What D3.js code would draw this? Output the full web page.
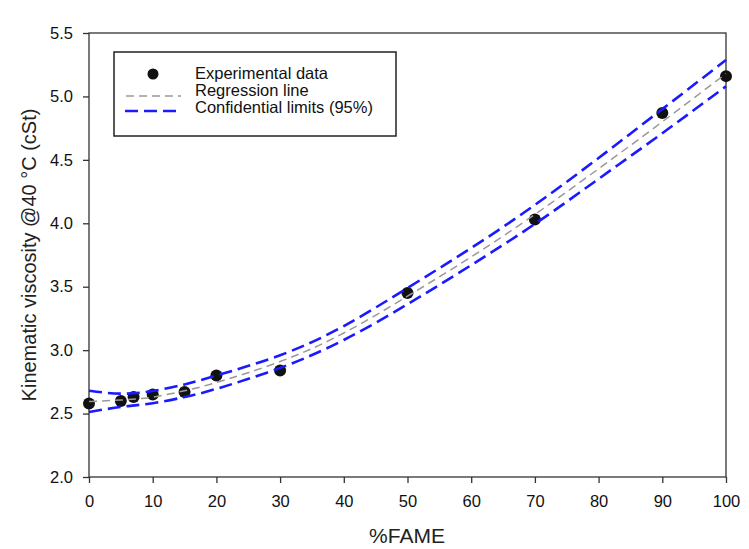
<!DOCTYPE html>
<html>
<head>
  <meta charset="utf-8">
  <script src="https://d3js.org/d3.v7.min.js"></script>
  <style type="text/css">
    body { margin: 0; background: #fff; }
    svg { font-family: Arial, "Liberation Sans", sans-serif; }
    .axis path, .axis line { stroke: #333; stroke-width: 1.3px; }
    .axis text { font-size: 16.5px; fill: #111; }
  </style>
</head>
<body>
  <div id="chart"></div>
  <script type="text/javascript">
    // measured points
    var fame = [0, 5, 7, 10, 15, 20, 30, 50, 70, 90, 100];
    var viscosity = [2.58, 2.60, 2.63, 2.65, 2.67, 2.80, 2.84, 3.45, 4.03, 4.87, 5.16];

    // fitted curve and 95% limits
    var fitX = [0, 5, 10, 15, 20, 30, 40, 50, 60, 70, 80, 90, 100];
    var regression = [2.595, 2.607, 2.63, 2.68, 2.745, 2.91, 3.135, 3.425, 3.735, 4.07, 4.43, 4.80, 5.18];
    var upperLimit = [2.68, 2.657, 2.678, 2.73, 2.80, 2.96, 3.19, 3.49, 3.805, 4.145, 4.515, 4.90, 5.287];
    var lowerLimit = [2.512, 2.552, 2.582, 2.63, 2.695, 2.86, 3.08, 3.362, 3.67, 3.995, 4.35, 4.71, 5.08];

    var xTicks = [0, 10, 20, 30, 40, 50, 60, 70, 80, 90, 100];
    var yTicks = [2.0, 2.5, 3.0, 3.5, 4.0, 4.5, 5.0, 5.5];
    var legendLabels = ['Experimental data', 'Regression line', 'Confidential limits (95%)'];

    var W = 749, H = 549;
    var margin = {left: 89, right: 23, top: 33, bottom: 72};

    var svg = d3.select('#chart').append('svg')
      .attr('width', W).attr('height', H);

    var x = d3.scaleLinear().domain([0, 100]).range([margin.left, W - margin.right]);
    var y = d3.scaleLinear().domain([2.0, 5.5]).range([H - margin.bottom, margin.top]);

    // frame
    svg.append('rect')
      .attr('x', x(0)).attr('y', y(5.5))
      .attr('width', x(100) - x(0)).attr('height', y(2.0) - y(5.5))
      .attr('fill', 'none').attr('stroke', '#333').attr('stroke-width', 1.3);

    var xAxis = svg.append('g').attr('class', 'axis')
      .attr('transform', 'translate(0,' + y(2.0) + ')')
      .call(d3.axisBottom(x).tickValues(xTicks).tickSize(6).tickPadding(12).tickFormat(d3.format('d')));
    var yAxis = svg.append('g').attr('class', 'axis')
      .attr('transform', 'translate(' + x(0) + ',0)')
      .call(d3.axisLeft(y).tickValues(yTicks).tickSize(6).tickPadding(10).tickFormat(d3.format('.1f')));
    xAxis.select('.domain').remove();
    yAxis.select('.domain').remove();

    svg.append('text')
      .attr('x', 407).attr('y', 543)
      .attr('text-anchor', 'middle')
      .style('font-size', '21px').style('fill', '#222')
      .text('%FAME');

    svg.append('text')
      .attr('transform', 'translate(36,' + ((y(2.0) + y(5.5)) / 2) + ') rotate(-90)')
      .attr('text-anchor', 'middle')
      .style('font-size', '20px').style('fill', '#222')
      .text('Kinematic viscosity @40 \u00b0C (cSt)');

    // points under the lines, like the original
    svg.selectAll('circle.pt')
      .data(fame)
      .enter().append('circle')
      .attr('class', 'pt')
      .attr('cx', function(d) { return x(d); })
      .attr('cy', function(d, i) { return y(viscosity[i]); })
      .attr('r', 6)
      .attr('fill', '#111');

    function curve(vals) {
      return d3.line()
        .x(function(d, i) { return x(fitX[i]); })
        .y(function(d) { return y(d); })
        .curve(d3.curveNatural)(vals);
    }

    svg.append('path')
      .attr('d', curve(regression))
      .attr('fill', 'none').attr('stroke', '#999')
      .attr('stroke-width', 1.5).attr('stroke-dasharray', '8,5');

    [upperLimit, lowerLimit].forEach(function(v) {
      svg.append('path')
        .attr('d', curve(v))
        .attr('fill', 'none').attr('stroke', '#1a1aff')
        .attr('stroke-width', 2.6).attr('stroke-dasharray', '13,6');
    });

    // legend
    var lg = svg.append('g');
    lg.append('rect')
      .attr('x', 114).attr('y', 52).attr('width', 282).attr('height', 84)
      .attr('fill', '#fff').attr('stroke', '#222').attr('stroke-width', 1.5);
    lg.append('circle').attr('cx', 153).attr('cy', 74).attr('r', 5.5).attr('fill', '#111');
    lg.append('line').attr('x1', 126).attr('x2', 181).attr('y1', 96).attr('y2', 96)
      .attr('stroke', '#999').attr('stroke-width', 1.5).attr('stroke-dasharray', '8,5');
    lg.append('line').attr('x1', 125).attr('x2', 177).attr('y1', 111).attr('y2', 111)
      .attr('stroke', '#1a1aff').attr('stroke-width', 2.6).attr('stroke-dasharray', '13,6');
    lg.selectAll('text')
      .data(legendLabels)
      .enter().append('text')
      .attr('x', 195)
      .attr('y', function(d, i) { return 79 + i * 17; })
      .style('font-size', '16.5px').style('fill', '#111')
      .text(function(d) { return d; });
  </script>
</body>
</html>
